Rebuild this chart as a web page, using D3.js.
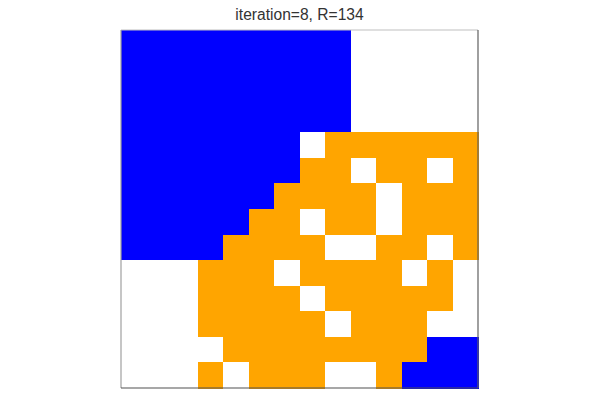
<!DOCTYPE html>
<html>
<head>
<meta charset="utf-8">
<script src="https://cdn.jsdelivr.net/npm/d3@7"></script>
<style>
  body { margin: 0; background: #fff; }
</style>
</head>
<body>
<div id="chart"></div>
<script>
// 0 = empty, 1 = blue agent, 2 = orange agent (rows top to bottom)
const gridRows = [
  "11111111100000",
  "11111111100000",
  "11111111100000",
  "11111111100000",
  "11111110222222",
  "11111112202202",
  "11111122220222",
  "11111220220222",
  "11112222002202",
  "00022202222020",
  "00022220222220",
  "00022222022200",
  "00002222222211",
  "00020222002111"
];
const stateColors = ["#ffffff", "#0000ff", "#ffa500"];
const title = "iteration=8, R=134";

const width = 600, height = 400;
const margin = { top: 30, right: 122, bottom: 12, left: 121 };

const cells = [];
gridRows.forEach((row, r) => {
  row.split("").forEach((v, c) => cells.push({ r, c, v: +v }));
});

const n = gridRows.length;

const svg = d3.select("#chart").append("svg")
  .attr("width", width)
  .attr("height", height);

const x = d3.scaleBand()
  .domain(d3.range(n))
  .range([margin.left, width - margin.right]);

const y = d3.scaleBand()
  .domain(d3.range(n))
  .range([margin.top, height - margin.bottom]);

svg.selectAll("rect.cell")
  .data(cells)
  .enter().append("rect")
  .attr("class", "cell")
  .attr("x", d => x(d.c))
  .attr("y", d => y(d.r))
  .attr("width", x.bandwidth() + 0.5)
  .attr("height", y.bandwidth() + 0.5)
  .attr("fill", d => stateColors[d.v])
  .attr("shape-rendering", "crispEdges");

// axes frame
const x0 = margin.left, x1 = width - margin.right;
const y0 = margin.top, y1 = height - margin.bottom;
const frame = [
  { a: [x0, y0, x1, y0], c: "#c0c0c0" },
  { a: [x0, y0, x0, y1], c: "#a0a0a0" },
  { a: [x1, y0, x1, y1], c: "#606060" },
  { a: [x0, y1, x1, y1], c: "#505050" }
];
svg.selectAll("line.frame")
  .data(frame)
  .enter().append("line")
  .attr("x1", d => d.a[0]).attr("y1", d => d.a[1])
  .attr("x2", d => d.a[2]).attr("y2", d => d.a[3])
  .attr("stroke", d => d.c)
  .attr("stroke-width", 1.2);

svg.append("text")
  .attr("x", (x0 + x1) / 2)
  .attr("y", 20)
  .attr("text-anchor", "middle")
  .style("font-family", "'Liberation Sans', Arial, sans-serif")
  .style("font-size", "15.6px")
  .style("fill", "#333")
  .text(title);
</script>
</body>
</html>
